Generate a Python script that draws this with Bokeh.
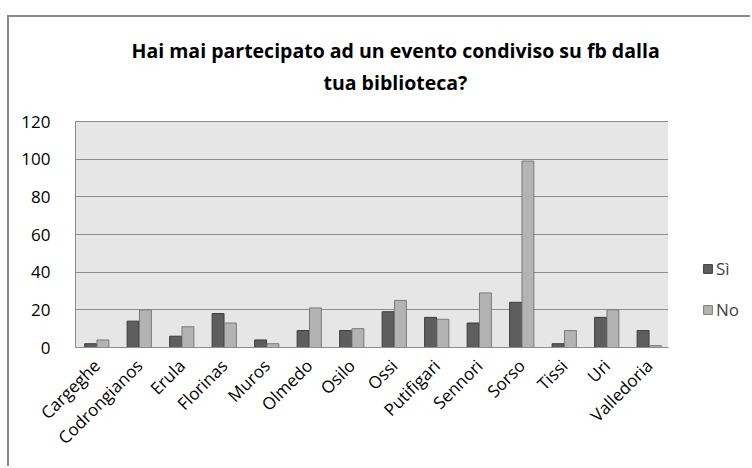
import math
from bokeh.plotting import figure
from bokeh.layouts import row
from bokeh.models import ColumnDataSource, FactorRange, Legend, LegendItem, Title, FixedTicker, Range1d
from bokeh.transform import dodge
from bokeh.embed import file_html
from bokeh.resources import INLINE

categories = ["Cargeghe", "Codrongianos", "Erula", "Florinas", "Muros", "Olmedo", "Osilo",
              "Ossi", "Putifigari", "Sennori", "Sorso", "Tissi", "Uri", "Valledoria"]
si_values = [2, 14, 6, 18, 4, 9, 9, 19, 16, 13, 24, 2, 16, 9]
no_values = [4, 20, 11, 13, 2, 21, 10, 25, 15, 29, 99, 9, 20, 1]
y_ticks = [0, 20, 40, 60, 80, 100, 120]
series_names = ["Sì", "No"]
title_line1 = "Hai mai partecipato ad un evento condiviso su fb dalla"
title_line2 = "tua biblioteca?"

FONT = "Open Sans"
SI_FILL, SI_LINE = "#5e5e5e", "#3c3c3c"
NO_FILL, NO_LINE = "#b3b3b3", "#7a7a7a"
BORDER = "2px solid #8a8a8a"

src = ColumnDataSource(dict(cat=categories, si=si_values, no=no_values))

p = figure(x_range=FactorRange(*categories, range_padding=0), y_range=(0, 120),
           width=661, height=451, output_backend="svg", toolbar_location=None,
           min_border_left=66, min_border_right=0, min_border_top=104, min_border_bottom=121)
p.styles = {"margin-left": "7px", "margin-top": "15px",
            "border-left": BORDER, "border-top": BORDER}

p.background_fill_color = "#e6e6e6"
p.border_fill_color = "white"
p.outline_line_color = "#8c8c8c"

p.vbar(x=dodge("cat", -0.145, range=p.x_range), top="si", width=0.28, bottom=0,
       source=src, fill_color=SI_FILL, line_color=SI_LINE, line_width=1)
p.vbar(x=dodge("cat", 0.145, range=p.x_range), top="no", width=0.28, bottom=0,
       source=src, fill_color=NO_FILL, line_color=NO_LINE, line_width=1)

p.xgrid.grid_line_color = None
p.ygrid.grid_line_color = "#8c8c8c"
p.ygrid.grid_line_width = 1
p.yaxis.ticker = FixedTicker(ticks=y_ticks)

p.yaxis.axis_line_color = None
p.yaxis.major_tick_line_color = None
p.yaxis.minor_tick_line_color = None
p.yaxis.major_label_standoff = 19
p.yaxis.major_label_text_font = FONT
p.yaxis.major_label_text_font_size = "17px"
p.yaxis.major_label_text_color = "#000000"

p.xaxis.axis_line_color = "#8c8c8c"
p.xaxis.major_tick_line_color = None
p.xaxis.minor_tick_line_color = None
p.xaxis.major_label_orientation = math.pi / 4
p.xaxis.major_label_standoff = 9
p.xaxis.major_label_text_font = FONT
p.xaxis.major_label_text_font_size = "17px"
p.xaxis.major_label_text_color = "#000000"

t2 = Title(text=title_line2, align="left", offset=248, text_font=FONT, text_font_size="19.5px",
           text_font_style="bold", standoff=51, text_color="#000000")
t1 = Title(text=title_line1, align="left", offset=56, text_font=FONT, text_font_size="19.5px",
           text_font_style="bold", standoff=-44, text_color="#000000")
p.add_layout(t2, "above")
p.add_layout(t1, "above")
p.title.text = ""

# legend panel on the right
p2 = figure(width=82, height=451, output_backend="svg", toolbar_location=None,
            x_axis_location=None, y_axis_location=None,
            x_range=Range1d(0, 1), y_range=Range1d(0, 1),
            min_border_left=0, min_border_right=0, min_border_top=0, min_border_bottom=0)
p2.styles = {"margin-top": "15px", "border-top": BORDER}
p2.outline_line_color = None
p2.grid.visible = False
p2.background_fill_color = "white"
p2.border_fill_color = "white"
dummy = ColumnDataSource(dict(x=[-5], top=[-4]))
l_si = p2.vbar(x="x", top="top", width=0.1, source=dummy, fill_color=SI_FILL, line_color=SI_LINE)
l_no = p2.vbar(x="x", top="top", width=0.1, source=dummy, fill_color=NO_FILL, line_color=NO_LINE)

legend = Legend(items=[LegendItem(label=series_names[0], renderers=[l_si], index=0),
                       LegendItem(label=series_names[1], renderers=[l_no], index=0)],
                location=(34, 26), padding=0, margin=0, spacing=18,
                glyph_width=11, glyph_height=11, label_standoff=3,
                label_text_font=FONT, label_text_font_size="17px",
                border_line_color=None, background_fill_alpha=0)
p2.add_layout(legend, "center")

layout = row(p, p2, spacing=0)
open("out.html", "w").write(file_html(layout, INLINE))
